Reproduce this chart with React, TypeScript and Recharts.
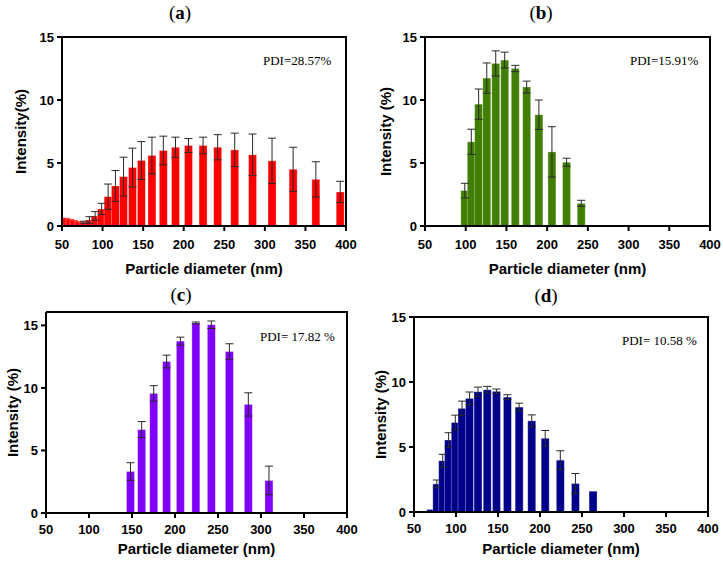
import React from "react";
import { BarChart, Bar, XAxis, YAxis, ErrorBar } from "recharts";

// bin centres (nm), mean intensity (%) and SD per sample
const SIZES_A = [55, 60, 65, 71, 77, 84, 91, 99, 107, 116, 126, 137, 148, 161, 175, 190, 206, 224, 242, 263, 285, 309, 335, 363, 393];
const VALUES_A = [0.65, 0.57, 0.48, 0.38, 0.3, 0.48, 0.8, 1.35, 2.33, 3.18, 3.92, 4.64, 5.2, 5.6, 5.99, 6.25, 6.39, 6.39, 6.25, 6.04, 5.65, 5.17, 4.5, 3.7, 2.7];
const ERR_A = [0, 0, 0, 0, 0.08, 0.26, 0.34, 0.45, 1.0, 1.22, 1.54, 1.54, 1.5, 1.45, 1.14, 0.8, 0.55, 0.66, 1.0, 1.33, 1.65, 1.8, 1.75, 1.4, 0.85];

const SIZES_B = [99, 107, 116, 126, 137, 148, 161, 175, 190, 206, 224, 242];
const VALUES_B = [2.81, 6.68, 9.67, 11.74, 12.9, 13.17, 12.5, 11.03, 8.83, 5.88, 5.06, 1.8];
const ERR_B = [0.58, 1.0, 1.2, 1.2, 1.0, 0.63, 0.25, 0.47, 1.17, 2.0, 0.32, 0.24];

const SIZES_C = [137, 148, 161, 175, 190, 206, 224, 242, 263, 285, 309];
const VALUES_C = [0.08, 3.32, 6.67, 9.56, 12.11, 13.74, 15.19, 15.05, 12.91, 8.68, 2.6];
const ERR_C = [0, 0.7, 0.64, 0.62, 0.51, 0.32, 0.08, 0.3, 0.62, 0.93, 1.15];

const SIZES_D = [70, 77, 84, 91, 99, 107, 116, 126, 137, 148, 161, 175, 190, 206, 224, 242, 263];
const VALUES_D = [0.2, 2.16, 3.94, 5.54, 6.88, 7.97, 8.74, 9.25, 9.4, 9.28, 8.84, 8.07, 7.01, 5.67, 3.99, 2.19, 1.6];
const ERR_D = [0, 0.3, 0.5, 0.56, 0.57, 0.56, 0.49, 0.36, 0.26, 0.18, 0.18, 0.3, 0.46, 0.6, 0.72, 0.77, 0];

const X_TICKS = [50, 100, 150, 200, 250, 300, 350, 400];
const Y_TICKS = [0, 5, 10, 15];

const SANS = "'Liberation Sans', Arial, sans-serif";
const SERIF = "'Liberation Serif', 'Times New Roman', serif";
const BAR_W = 8;
const AXIS_LINE = { stroke: "#000", strokeWidth: 2 };

const toRows = (sizes: number[], values: number[], errs: number[]) =>
  sizes.map((size, i) => ({ size, value: values[i], err: errs[i] }));

// recharts shrinks bars to the smallest gap on a number axis; the original
// plot uses fixed-width bars that overlap, so redraw them around the centre
function FixedBar(props: any) {
  const { x, y, width, height, fill } = props;
  if (height == null || height <= 0) return null;
  const cx = x + width / 2;
  return (
    <rect x={cx - BAR_W / 2} y={y} width={BAR_W} height={height} fill={fill}
      stroke="#ffffff" strokeOpacity={0.4} strokeWidth={0.8} />
  );
}

function YTitle(props: any) {
  const { viewBox, text, px } = props;
  const cy = viewBox.y + viewBox.height / 2;
  return (
    <text x={px} y={cy} transform={`rotate(-90, ${px}, ${cy})`} textAnchor="middle"
      dominantBaseline="central" fontFamily={SANS} fontWeight="bold" fontSize={15} fill="#000">
      {text}
    </text>
  );
}

interface PanelProps {
  letter: string;
  pdi: string;
  rows: { size: number; value: number; err: number }[];
  color: string;
  left: number; top: number;
  plotLeft: number; plotTop: number; plotRight: number; plotBottom: number;
  yMax: number; tickGap: number;
  yTitle: string; yTitleX: number;
  titleX: number; titleY: number;
  pdiX: number; pdiY: number;
}

function Panel(p: PanelProps) {
  const W = 362, H = 280;
  const tick = { fontFamily: SANS, fontWeight: "bold", fontSize: 13, fill: "#000" };
  const frame = { position: "absolute" as const, background: "#000", zIndex: 5 };
  return (
    <>
      <div style={{ position: "absolute", left: p.left, top: p.top, width: W, height: H }}>
        <BarChart width={W} height={H} data={p.rows}
          margin={{ top: p.plotTop, right: W - p.plotRight, left: 0, bottom: 0 }}>
          <XAxis type="number" dataKey="size" domain={[50, 400]} ticks={X_TICKS} interval={0}
            height={H - p.plotBottom} tick={tick} tickSize={5} tickMargin={p.tickGap}
            axisLine={AXIS_LINE} tickLine={AXIS_LINE}
            label={{ value: "Particle diameter (nm)", position: "insideBottom", offset: 6,
              style: { fontFamily: SANS, fontWeight: "bold", fontSize: 15, fill: "#000" } }} />
          <YAxis type="number" domain={[0, p.yMax]} ticks={Y_TICKS} interval={0} width={p.plotLeft}
            tick={tick} tickSize={5} tickMargin={3}
            axisLine={AXIS_LINE} tickLine={AXIS_LINE}
            label={<YTitle text={p.yTitle} px={p.yTitleX} />} />
          <Bar dataKey="value" fill={p.color} shape={<FixedBar />} isAnimationActive={false}>
            <ErrorBar dataKey="err" width={4} stroke="#2a2a2a" strokeWidth={1} direction="y" />
          </Bar>
        </BarChart>
        <div style={{ position: "absolute", left: p.titleX - 30, width: 60, top: p.titleY - 11,
          textAlign: "center", fontFamily: SERIF, fontSize: 19, lineHeight: "22px" }}>
          (<b>{p.letter}</b>)
        </div>
        <div style={{ position: "absolute", left: p.pdiX, top: p.pdiY - 8, fontFamily: SERIF,
          fontSize: 13, lineHeight: "16px", whiteSpace: "pre" }}>
          {p.pdi}
        </div>
      </div>
      {/* top and right edges of the plot frame */}
      <div style={{ ...frame, left: p.left + p.plotLeft, top: p.top + p.plotTop - 1,
        width: p.plotRight - p.plotLeft, height: 2 }} />
      <div style={{ ...frame, left: p.left + p.plotRight - 1, top: p.top + p.plotTop - 1,
        width: 2, height: p.plotBottom - p.plotTop + 2 }} />
    </>
  );
}

export default function App() {
  return (
    <div style={{ position: "absolute", left: 0, top: 0, width: 723, height: 561, background: "#fff" }}>
      <Panel letter="a" pdi="PDI=28.57%" rows={toRows(SIZES_A, VALUES_A, ERR_A)} color="#ff0000"
        left={0} top={0} plotLeft={62} plotTop={37} plotRight={346} plotBottom={226} yMax={15} tickGap={9}
        yTitle="Intensity(%)" yTitleX={20} titleX={180} titleY={13} pdiX={263} pdiY={61} />
      <Panel letter="b" pdi="PDI=15.91%" rows={toRows(SIZES_B, VALUES_B, ERR_B)} color="#417f04"
        left={361} top={0} plotLeft={64} plotTop={37} plotRight={349} plotBottom={226} yMax={15} tickGap={9}
        yTitle="Intensity (%)" yTitleX={24} titleX={180} titleY={13} pdiX={269} pdiY={61} />
      <Panel letter="c" pdi="PDI= 17.82 %" rows={toRows(SIZES_C, VALUES_C, ERR_C)} color="#8000ff"
        left={0} top={280} plotLeft={46} plotTop={32} plotRight={347} plotBottom={233} yMax={16.07} tickGap={7}
        yTitle="Intensity (%)" yTitleX={12} titleX={181} titleY={15} pdiX={260} pdiY={57} />
      <Panel letter="d" pdi="PDI= 10.58 %" rows={toRows(SIZES_D, VALUES_D, ERR_D)} color="#00008b"
        left={361} top={280} plotLeft={53} plotTop={37} plotRight={347} plotBottom={232} yMax={15} tickGap={7}
        yTitle="Intensity (%)" yTitleX={19} titleX={185} titleY={16} pdiX={261} pdiY={61} />
    </div>
  );
}
